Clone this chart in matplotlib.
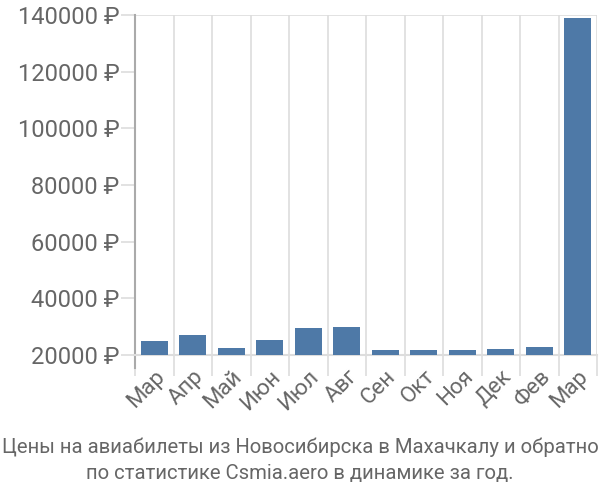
import matplotlib
matplotlib.use("Agg")
import matplotlib.pyplot as plt
import numpy as np

plt.rcParams["font.family"] = ["Roboto", "DejaVu Sans"]

months = ["Мар", "Апр", "Май", "Июн", "Июл", "Авг", "Сен", "Окт", "Ноя", "Дек", "Фев", "Мар"]
prices = [25000, 27000, 22400, 25300, 29500, 29800, 21800, 21600, 21700, 22000, 22700, 138900]
y_ticks = [20000, 40000, 60000, 80000, 100000, 120000, 140000]
title_lines = [
    "Цены на авиабилеты из Новосибирска в Махачкалу и обратно",
    "по статистике Csmia.aero в динамике за год.",
]

fig = plt.figure(figsize=(6, 5), dpi=100)
ax = fig.add_axes([0.225, 0.29, 0.77, 0.68])

x = np.arange(len(prices))
ax.bar(x, prices, width=0.71, color="#4e79a7", zorder=3)

ax.set_xlim(-0.5, len(prices) - 0.5)
ax.set_ylim(20000, 140000)

# vertical grid at category boundaries
ax.set_xticks(np.arange(-0.5, len(prices)), minor=True)
ax.grid(True, which="minor", axis="x", color="#dddddd", linewidth=1.2, zorder=0)
ax.tick_params(axis="x", which="minor", length=15, color="#dddddd", width=1.2)
ax.axhline(140000, color="#dddddd", linewidth=1.2, zorder=1)

ax.set_xticks(x)
ax.set_xticklabels(months, rotation=45, ha="right", rotation_mode="anchor",
                   fontsize=16, color="#666666")
ax.tick_params(axis="x", which="major", length=0, pad=8)

ax.set_yticks(y_ticks)
ax.set_yticklabels([f"{v} ₽" for v in y_ticks], fontsize=17, color="#666666")
ax.tick_params(axis="y", length=10, color="#dddddd", width=1.2, pad=1)

for s in ["top", "right"]:
    ax.spines[s].set_visible(False)
ax.spines["left"].set_color("#aaaaaa")
ax.spines["left"].set_linewidth(1.5)
ax.spines["left"].set_bounds(20000 - 4500, 140000)
ax.spines["bottom"].set_color("#dddddd")
ax.spines["bottom"].set_linewidth(1.5)

fig.text(0.5, 0.106, title_lines[0], ha="center", va="center", fontsize=14.6, color="#666666")
fig.text(0.5, 0.054, title_lines[1], ha="center", va="center", fontsize=14.6, color="#666666")

fig.savefig("out.png", dpi=100)
